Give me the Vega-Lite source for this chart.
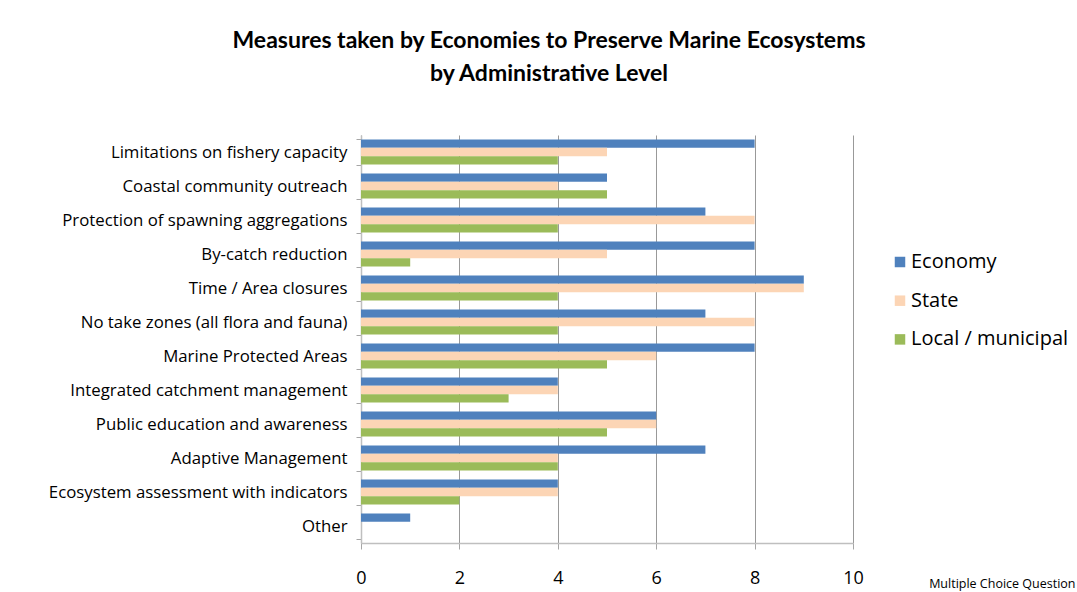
{
  "$schema": "https://vega.github.io/schema/vega-lite/v6.json",
  "autosize": "none",
  "width": 492,
  "height": 408,
  "padding": {"left": 361, "top": 135, "right": 224, "bottom": 49},
  "background": "white",
  "title": {
    "text": ["Measures taken by Economies to Preserve Marine Ecosystems", "by Administrative Level"],
    "anchor": "middle",
    "frame": "group",
    "dx": -58,
    "offset": 41,
    "font": "Lato",
    "fontSize": 23,
    "fontWeight": "bold",
    "color": "#000000",
    "lineHeight": 33
  },
  "data": {
    "values": [
      {"measure": "Limitations on fishery capacity", "level": "Economy", "count": 8},
      {"measure": "Limitations on fishery capacity", "level": "State", "count": 5},
      {"measure": "Limitations on fishery capacity", "level": "Local / municipal", "count": 4},
      {"measure": "Coastal community outreach", "level": "Economy", "count": 5},
      {"measure": "Coastal community outreach", "level": "State", "count": 4},
      {"measure": "Coastal community outreach", "level": "Local / municipal", "count": 5},
      {"measure": "Protection of spawning aggregations", "level": "Economy", "count": 7},
      {"measure": "Protection of spawning aggregations", "level": "State", "count": 8},
      {"measure": "Protection of spawning aggregations", "level": "Local / municipal", "count": 4},
      {"measure": "By-catch reduction", "level": "Economy", "count": 8},
      {"measure": "By-catch reduction", "level": "State", "count": 5},
      {"measure": "By-catch reduction", "level": "Local / municipal", "count": 1},
      {"measure": "Time / Area closures", "level": "Economy", "count": 9},
      {"measure": "Time / Area closures", "level": "State", "count": 9},
      {"measure": "Time / Area closures", "level": "Local / municipal", "count": 4},
      {"measure": "No take zones (all flora and fauna)", "level": "Economy", "count": 7},
      {"measure": "No take zones (all flora and fauna)", "level": "State", "count": 8},
      {"measure": "No take zones (all flora and fauna)", "level": "Local / municipal", "count": 4},
      {"measure": "Marine Protected Areas", "level": "Economy", "count": 8},
      {"measure": "Marine Protected Areas", "level": "State", "count": 6},
      {"measure": "Marine Protected Areas", "level": "Local / municipal", "count": 5},
      {"measure": "Integrated catchment management", "level": "Economy", "count": 4},
      {"measure": "Integrated catchment management", "level": "State", "count": 4},
      {"measure": "Integrated catchment management", "level": "Local / municipal", "count": 3},
      {"measure": "Public education and awareness", "level": "Economy", "count": 6},
      {"measure": "Public education and awareness", "level": "State", "count": 6},
      {"measure": "Public education and awareness", "level": "Local / municipal", "count": 5},
      {"measure": "Adaptive Management", "level": "Economy", "count": 7},
      {"measure": "Adaptive Management", "level": "State", "count": 4},
      {"measure": "Adaptive Management", "level": "Local / municipal", "count": 4},
      {"measure": "Ecosystem assessment with indicators", "level": "Economy", "count": 4},
      {"measure": "Ecosystem assessment with indicators", "level": "State", "count": 4},
      {"measure": "Ecosystem assessment with indicators", "level": "Local / municipal", "count": 2},
      {"measure": "Other", "level": "Economy", "count": 1},
      {"measure": "Other", "level": "State", "count": 0},
      {"measure": "Other", "level": "Local / municipal", "count": 0}
    ]
  },
  "mark": {"type": "bar", "cornerRadius": 0},
  "encoding": {
    "y": {
      "field": "measure",
      "type": "nominal",
      "sort": null,
      "scale": {"paddingInner": 0.26, "paddingOuter": 0.13},
      "axis": {
        "title": null,
        "tickBand": "extent",
        "tickSize": 5,
        "tickColor": "#a6a6a6",
        "domainColor": "#bfbfbf",
        "domainWidth": 1.5,
        "labelPadding": 9,
        "labelFont": "Open Sans",
        "labelFontSize": 16.8,
        "labelColor": "#000000",
        "labelLimit": 400,
        "grid": false
      }
    },
    "yOffset": {
      "field": "level",
      "type": "nominal",
      "scale": {"domain": ["Economy", "State", "Local / municipal"], "paddingInner": 0, "paddingOuter": 0}
    },
    "x": {
      "field": "count",
      "type": "quantitative",
      "scale": {"domain": [0, 10], "nice": false},
      "axis": {
        "values": [0, 2, 4, 6, 8, 10],
        "title": "Multiple Choice Question",
        "titleFont": "Open Sans",
        "titleFontSize": 12.5,
        "titleFontWeight": "normal",
        "titleColor": "#000000",
        "titleAlign": "right",
        "titleAnchor": null,
        "titleX": 714,
        "titleY": 40,
        "titleBaseline": "middle",
        "grid": true,
        "gridColor": "#999999",
        "gridWidth": 1,
        "tickSize": 6,
        "tickColor": "#a6a6a6",
        "domainColor": "#bfbfbf",
        "domainWidth": 1.5,
        "labelPadding": 20,
        "labelFont": "Open Sans",
        "labelFontSize": 18,
        "labelColor": "#000000",
        "labelFlush": false
      }
    },
    "color": {
      "field": "level",
      "type": "nominal",
      "scale": {"domain": ["Economy", "State", "Local / municipal"], "range": ["#4f81bd", "#fcd5b5", "#9bbb59"]},
      "legend": {
        "title": null,
        "orient": "none",
        "legendX": 529,
        "legendY": 117,
        "symbolType": "square",
        "symbolSize": 110,
        "symbolStrokeWidth": 0,
        "labelFont": "Open Sans",
        "labelFontSize": 20,
        "labelColor": "#000000",
        "labelOffset": 1,
        "rowPadding": 18.7,
        "labelLimit": 300
      }
    }
  },
  "config": {
    "view": {"stroke": null},
    "axis": {"labelAngle": 0}
  }
}
